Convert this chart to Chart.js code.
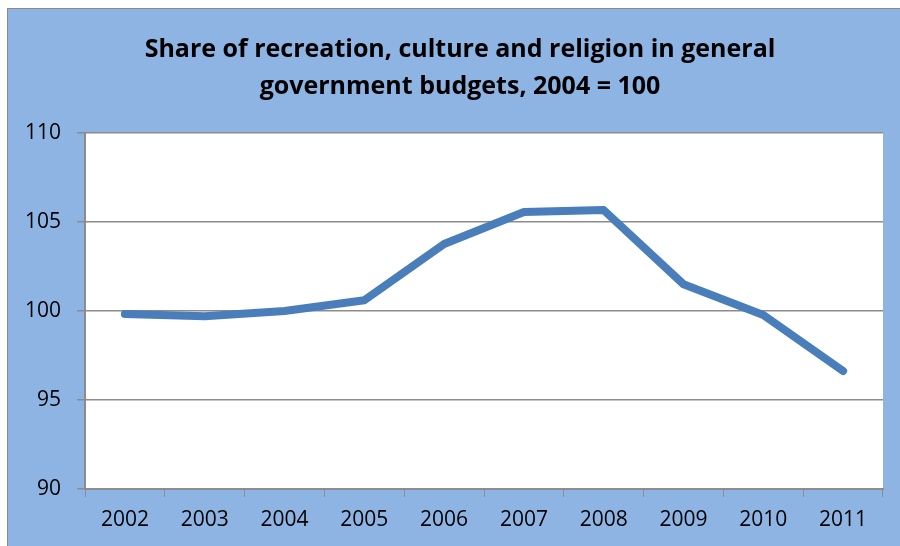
<!DOCTYPE html>
<html lang="en">
<head>
    <meta charset="UTF-8">
    <title>Share of recreation, culture and religion</title>
    <script src="https://cdn.jsdelivr.net/npm/chart.js"></script>
    <style>
        body {
            margin: 0;
            padding: 0;
            background-color: #ffffff;
            overflow: hidden;
        }

        .frame {
            position: absolute;
            left: 7px;
            top: 8px;
            width: 905px;
            height: 540px;
            border-top: 1px solid #8a8a8a;
            border-left: 1px solid #8a8a8a;
            background-color: #8eb4e3;
        }

        .frame canvas {
            display: block;
        }
    </style>
</head>
<body>

    <div class="frame">
        <canvas id="lineChart" width="904" height="537"></canvas>
    </div>

    <script>
        // Dados
        const years = ['2002', '2003', '2004', '2005', '2006', '2007', '2008', '2009', '2010', '2011'];
        const shareIndex = [99.83, 99.7, 100.0, 100.6, 103.76, 105.56, 105.67, 101.5, 99.78, 96.63];
        const titleLines = ['Share of recreation, culture and religion in general', 'government budgets, 2004 = 100'];

        const gridGray = '#8c8c8c';

        // fundo branco da área do gráfico
        const plotBackground = {
            id: 'plotBackground',
            beforeDraw(chart) {
                const { ctx, chartArea } = chart;
                ctx.save();
                ctx.fillStyle = '#ffffff';
                ctx.fillRect(chartArea.left, chartArea.top, chartArea.right - chartArea.left, chartArea.bottom - chartArea.top);
                ctx.restore();
            }
        };

        // título centrado na largura toda do quadro
        const wideTitle = {
            id: 'wideTitle',
            afterLayout(chart) {
                const t = chart.titleBlock;
                if (!t) return;
                t.left = 0;
                t.right = chart.width;
                t.width = chart.width;
            }
        };

        const config = {
            type: 'line',
            data: {
                labels: years,
                datasets: [{
                    data: shareIndex,
                    borderColor: '#4a7ebb',
                    borderWidth: 8,
                    borderCapStyle: 'round',
                    borderJoinStyle: 'round',
                    pointRadius: 0,
                    fill: false,
                    tension: 0
                }]
            },
            options: {
                responsive: false,
                animation: false,
                layout: {
                    padding: { left: 0, right: 29, top: 0, bottom: 0 }
                },
                plugins: {
                    legend: { display: false },
                    tooltip: { enabled: false },
                    title: {
                        display: true,
                        text: titleLines,
                        color: '#000000',
                        font: { family: 'Open Sans', size: 25, weight: 'bold', lineHeight: 1.48 },
                        padding: { top: 22, bottom: 28 }
                    }
                },
                scales: {
                    x: {
                        offset: true,
                        grid: {
                            offset: true,
                            drawOnChartArea: false,
                            color: gridGray,
                            tickLength: 8
                        },
                        border: { color: gridGray, width: 2 },
                        ticks: {
                            color: '#000000',
                            font: { family: 'Open Sans', size: 21 },
                            padding: 10,
                            maxRotation: 0
                        },
                        afterFit(scale) { scale.height = 57; }
                    },
                    y: {
                        min: 90,
                        max: 110,
                        grid: {
                            color: gridGray,
                            lineWidth: 1.5,
                            tickLength: 8
                        },
                        border: { color: gridGray, width: 2 },
                        ticks: {
                            stepSize: 5,
                            color: '#000000',
                            font: { family: 'Open Sans', size: 21 },
                            padding: 16
                        },
                        afterFit(scale) { scale.width = 77; }
                    }
                }
            },
            plugins: [plotBackground, wideTitle]
        };

        new Chart(document.getElementById('lineChart'), config);
    </script>
</body>
</html>
